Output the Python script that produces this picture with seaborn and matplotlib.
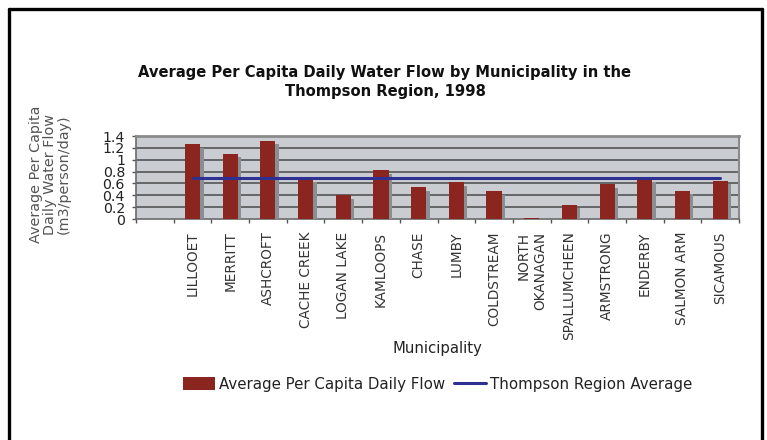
import numpy as np
import pandas as pd
import matplotlib
matplotlib.use("Agg")
import matplotlib.pyplot as plt
import matplotlib.patheffects as pe
from matplotlib.lines import Line2D
from matplotlib.patches import Patch
import seaborn as sns

municipalities = ["LILLOOET", "MERRITT", "ASHCROFT", "CACHE CREEK", "LOGAN LAKE",
                  "KAMLOOPS", "CHASE", "LUMBY", "COLDSTREAM", "NORTH\nOKANAGAN",
                  "SPALLUMCHEEN", "ARMSTRONG", "ENDERBY", "SALMON ARM", "SICAMOUS"]
daily_flow = [1.26, 1.10, 1.32, 0.69, 0.40, 0.82, 0.535, 0.62, 0.47, 0.02,
              0.24, 0.585, 0.68, 0.48, 0.645]
region_average = 0.69
y_ticks = [0, 0.2, 0.4, 0.6, 0.8, 1, 1.2, 1.4]
y_tick_labels = ["0", "0.2", "0.4", "0.6", "0.8", "1", "1.2", "1.4"]

sns.set_theme(style="white")
plt.rcParams["font.family"] = ["DejaVu Sans"]

df = pd.DataFrame({"Municipality": municipalities, "Flow": daily_flow})

fig = plt.figure(figsize=(7.67, 4.40), dpi=100)
fig.patch.set_facecolor("white")
ax = fig.add_axes([136 / 767, 1 - 219 / 440, (739 - 136) / 767, (219 - 136) / 440])
ax.set_facecolor("#c9ccd1")

bar_color = "#8b2520"
sns.barplot(data=df, x="Municipality", y="Flow", color=bar_color, width=0.4,
            saturation=1, ax=ax, zorder=3)
for bar in ax.patches:
    bar.set_edgecolor("none")
    bar.set_path_effects([pe.SimplePatchShadow(offset=(2.5, -2.5), shadow_rgbFace="#8a8d92", alpha=1.0),
                          pe.Normal()])

n = len(municipalities)
sns.lineplot(x=np.arange(n), y=np.full(n, region_average), color="#2e3192",
             linewidth=2.2, ax=ax, zorder=4)

ax.set_xlim(-1.5, n - 0.5)
ax.set_ylim(0, 1.4)
ax.set_yticks(y_ticks)
ax.set_yticklabels(y_tick_labels, fontsize=10.2, color="#222222",
                   family=["Liberation Sans Narrow", "DejaVu Sans"])
for y in y_ticks[1:]:
    ax.axhline(y, color="#4a4a4a", linewidth=1.1, zorder=1)

ax.set_xticks(np.arange(n))
ax.set_xticklabels(municipalities, rotation=90, fontsize=9.8, color="#333333",
                   va="top", ha="center", multialignment="right")
ax.set_xticks(np.arange(-1.5, n), minor=True)
ax.tick_params(axis="x", which="major", length=0, pad=9)
ax.tick_params(axis="x", which="minor", length=3, width=1, color="#555555", bottom=True)
ax.tick_params(axis="y", length=3, width=1, color="#555555", left=True, pad=5)

for side in ["left", "bottom"]:
    ax.spines[side].set_color("#6a6a6a")
    ax.spines[side].set_linewidth(1.2)
ax.spines["top"].set_color("#8a8a8a")
ax.spines["top"].set_linewidth(2.0)
ax.spines["right"].set_color("#8a8a8a")
ax.spines["right"].set_linewidth(1.5)

ax.set_xlabel("Municipality", fontsize=10.7, color="#222222")
ax.set_ylabel("Average Per Capita\nDaily Water Flow\n(m3/person/day)", fontsize=10.4,
              color="#555555", linespacing=0.98)
ax.xaxis.set_label_coords((437 - 136) / 603, -(341 - 219) / 83)
ax.yaxis.set_label_coords(-(136 - 71) / 603, 0.54)

fig.text(385 / 767, 1 - 82 / 440,
         "Average Per Capita Daily Water Flow by Municipality in the\nThompson Region, 1998",
         ha="center", va="center", fontsize=10.6, fontweight="bold", color="#111111",
         linespacing=1.4)

handles = [Patch(facecolor=bar_color, edgecolor="none"),
           Line2D([0], [0], color="#2e3192", linewidth=2.2)]
fig.legend(handles, ["Average Per Capita Daily Flow", "Thompson Region Average"],
           loc="center", bbox_to_anchor=(438 / 767, 1 - 384 / 440), ncol=2,
           frameon=False, fontsize=10.8, handlelength=2.1, handleheight=1.0,
           handletextpad=0.3, columnspacing=0.6, labelcolor="#222222")

# outer frame (left, top, right)
frame_kw = dict(color="black", linewidth=2.4, transform=fig.transFigure)
fig.add_artist(Line2D([9 / 767, 9 / 767], [0, 1 - 9.5 / 440], **frame_kw))
fig.add_artist(Line2D([9 / 767, 762 / 767], [1 - 9.5 / 440, 1 - 9.5 / 440], **frame_kw))
fig.add_artist(Line2D([762 / 767, 762 / 767], [0, 1 - 9.5 / 440], **frame_kw))

fig.savefig("out.png", dpi=100)
